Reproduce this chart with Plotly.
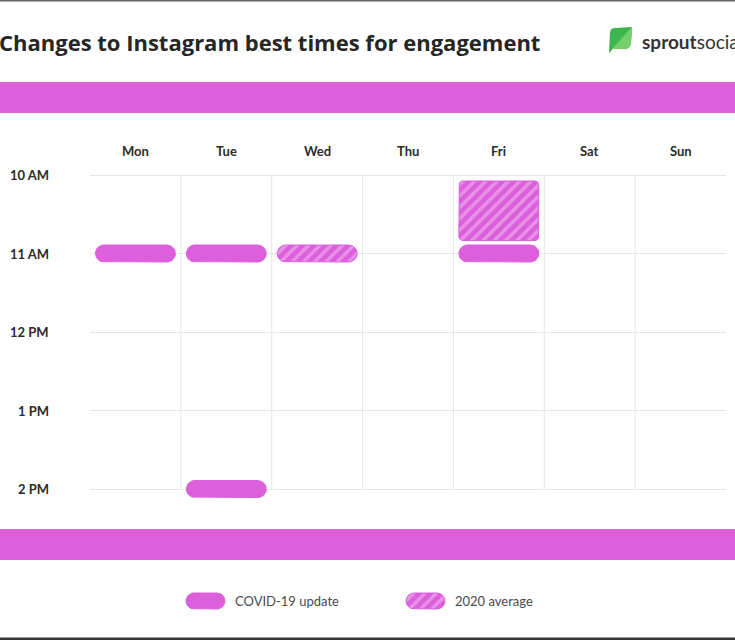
import plotly.graph_objects as go

# ---------------- data ----------------
days = ["Mon", "Tue", "Wed", "Thu", "Fri", "Sat", "Sun"]
hours = [10, 11, 12, 13, 14]
hour_labels = ["10 AM", "11 AM", "12 PM", "1 PM", "2 PM"]

# COVID-19 update slots (day, start hour, end hour)
covid_days = ["Mon", "Tue", "Fri", "Tue"]
covid_start = [11, 11, 11, 14]
covid_end = [11, 11, 11, 14]

# 2020 average slots
avg_days = ["Wed", "Fri"]
avg_start = [11, 10]
avg_end = [11, 11]

title_text = "Changes to Instagram best times for engagement"
legend_labels = ["COVID-19 update", "2020 average"]

# ---------------- style / geometry ----------------
W, H = 735, 640
MAG = "#dc5fdc"
STRIPE = "#f5c4f5"
GRID = "#e6e6e6"
FONT = "Lato"
TFONT = "Open Sans"

PX_L, PX_R = 90, 726          # plot area horizontal pixels
PX_TOP_H, PX_BOT_H = 175, 489  # pixel of first / last hour line
XR = (-0.5, len(days) - 0.5)
px_per_x = (PX_R - PX_L) / (XR[1] - XR[0])
px_per_h = (PX_BOT_H - PX_TOP_H) / (hours[-1] - hours[0])
top_px = PX_TOP_H - 0.5 * px_per_h
bot_px = PX_BOT_H + 0.5 * px_per_h
YR = (hours[-1] + 0.5, hours[0] - 0.5)


def x_to_px(x):
    return PX_L + (x - XR[0]) * px_per_x


def px_to_x(p):
    return XR[0] + (p - PX_L) / px_per_x


def h_to_px(h):
    return PX_TOP_H + (h - hours[0]) * px_per_h


def px_to_h(p):
    return hours[0] + (p - PX_TOP_H) / px_per_h


def rounded_px(x0, x1, y0, y1, r, n=10):
    import math
    r = min(r, (x1 - x0) / 2, (y1 - y0) / 2)
    pts = []
    corners = [
        (x1 - r, y0 + r, -90, 0),
        (x1 - r, y1 - r, 0, 90),
        (x0 + r, y1 - r, 90, 180),
        (x0 + r, y0 + r, 180, 270),
    ]
    for cx, cy, a0, a1 in corners:
        for k in range(n + 1):
            a = math.radians(a0 + (a1 - a0) * k / n)
            pts.append((cx + r * math.cos(a), cy + r * math.sin(a)))
    pts.append(pts[0])
    return [p[0] for p in pts], [p[1] for p in pts]


def slot_shape(day, h0, h1):
    i = days.index(day)
    cx = x_to_px(i)
    hw = 40
    if h0 == h1:
        cy = h_to_px(h0)
        xs, ys = rounded_px(cx - hw, cx + hw, cy - 8.5, cy + 8.5, 8.5)
    else:
        xs, ys = rounded_px(cx - hw, cx + hw, h_to_px(h0) + 6, h_to_px(h1) - 13, 4)
    return [px_to_x(p) for p in xs], [px_to_h(p) for p in ys]


fig = go.Figure()

pattern = dict(shape="/", fgcolor=STRIPE, bgcolor=MAG, size=8, solidity=0.42)

for d, s, e in zip(covid_days, covid_start, covid_end):
    xs, ys = slot_shape(d, s, e)
    fig.add_trace(go.Scatter(x=xs, y=ys, mode="lines", fill="toself",
                             fillcolor=MAG, line=dict(color=MAG, width=1),
                             hoverinfo="skip", showlegend=False,
                             xaxis="x", yaxis="y"))

for d, s, e in zip(avg_days, avg_start, avg_end):
    xs, ys = slot_shape(d, s, e)
    fig.add_trace(go.Scatter(x=xs, y=ys, mode="lines", fill="toself",
                             fillcolor=MAG, fillpattern=pattern,
                             line=dict(color=MAG, width=1),
                             hoverinfo="skip", showlegend=False,
                             xaxis="x", yaxis="y"))

# legend pills on the pixel overlay axes
leg_x = [186, 406]
for k, lx in enumerate(leg_x):
    xs, ys = rounded_px(lx, lx + 39, 593, 609, 8)
    kw = dict(fillpattern=pattern) if k == 1 else {}
    fig.add_trace(go.Scatter(x=xs, y=ys, mode="lines", fill="toself",
                             fillcolor=MAG, line=dict(color=MAG, width=1),
                             hoverinfo="skip", showlegend=False,
                             xaxis="x2", yaxis="y2", **kw))

shapes = []
# vertical grid lines between days
for i in range(len(days) - 1):
    shapes.append(dict(type="line", xref="x", yref="y", x0=i + 0.5, x1=i + 0.5,
                       y0=hours[0], y1=hours[-1], line=dict(color=GRID, width=1),
                       layer="below"))
# magenta bands
for y0, y1 in [(82, 113), (529, 560)]:
    shapes.append(dict(type="rect", xref="x2", yref="y2", x0=0, x1=W, y0=y0, y1=y1,
                       fillcolor=MAG, line=dict(width=0), layer="below"))
# frame lines top / bottom
shapes.append(dict(type="rect", xref="x2", yref="y2", x0=0, x1=W, y0=0, y1=1.5,
                   fillcolor="#666666", line=dict(width=0)))
shapes.append(dict(type="rect", xref="x2", yref="y2", x0=0, x1=W, y0=637.5, y1=640,
                   fillcolor="#333333", line=dict(width=0)))
# logo leaf
shapes.append(dict(type="path", xref="x2", yref="y2",
                   path="M 609 53 L 610 33 Q 610 28 615 28 L 632 27 L 631 43 Q 630 49 624 49 L 613 49 Z",
                   fillcolor="#3fb54f", line=dict(width=0)))
shapes.append(dict(type="path", xref="x2", yref="y2",
                   path="M 612 49 L 632 27 L 631 43 Q 630 49 624 49 Z",
                   fillcolor="#74cf6c", line=dict(width=0)))

annotations = []
annotations.append(dict(xref="paper", yref="paper", x=-3 / W, y=1 - 42 / H, text=title_text,
                        showarrow=False, xanchor="left", yanchor="middle",
                        font=dict(family=TFONT, size=22, color="#262626", weight="bold")))
annotations.append(dict(xref="paper", yref="paper", x=640 / W, y=1 - 41 / H,
                        text="<b>sprout</b>social", showarrow=False,
                        xanchor="left", yanchor="middle",
                        font=dict(family=FONT, size=19, color="#333333")))
for i, d in enumerate(days):
    annotations.append(dict(xref="x", yref="y2", x=i, y=151, text=d, showarrow=False,
                            xanchor="center", yanchor="middle",
                            font=dict(family=FONT, size=13, color="#2b2b2b", weight="bold")))
for h, lab in zip(hours, hour_labels):
    annotations.append(dict(xref="x2", yref="y", x=51, y=h, text=lab, showarrow=False,
                            xanchor="right", yanchor="middle",
                            font=dict(family=FONT, size=13, color="#2b2b2b", weight="bold")))
for lx, lab in zip(leg_x, legend_labels):
    annotations.append(dict(xref="x2", yref="y2", x=lx + 47, y=601, text=lab, showarrow=False,
                            xanchor="left", yanchor="middle",
                            font=dict(family=FONT, size=13, color="#4a4a4a")))

fig.update_layout(
    width=W, height=H,
    margin=dict(l=0, r=0, t=0, b=0),
    paper_bgcolor="white", plot_bgcolor="rgba(0,0,0,0)",
    showlegend=False,
    xaxis=dict(range=list(XR), domain=[PX_L / W, PX_R / W], showgrid=False,
               showticklabels=False, zeroline=False, anchor="y"),
    yaxis=dict(range=list(YR), domain=[1 - bot_px / H, 1 - top_px / H],
               tickvals=hours, showgrid=True, gridcolor=GRID, gridwidth=1,
               showticklabels=False, zeroline=False, anchor="x"),
    xaxis2=dict(range=[0, W], domain=[0, 1], visible=False, anchor="y2"),
    yaxis2=dict(range=[H, 0], domain=[0, 1], visible=False, anchor="x2"),
    shapes=shapes,
    annotations=annotations,
)

fig.write_html("out.html")
